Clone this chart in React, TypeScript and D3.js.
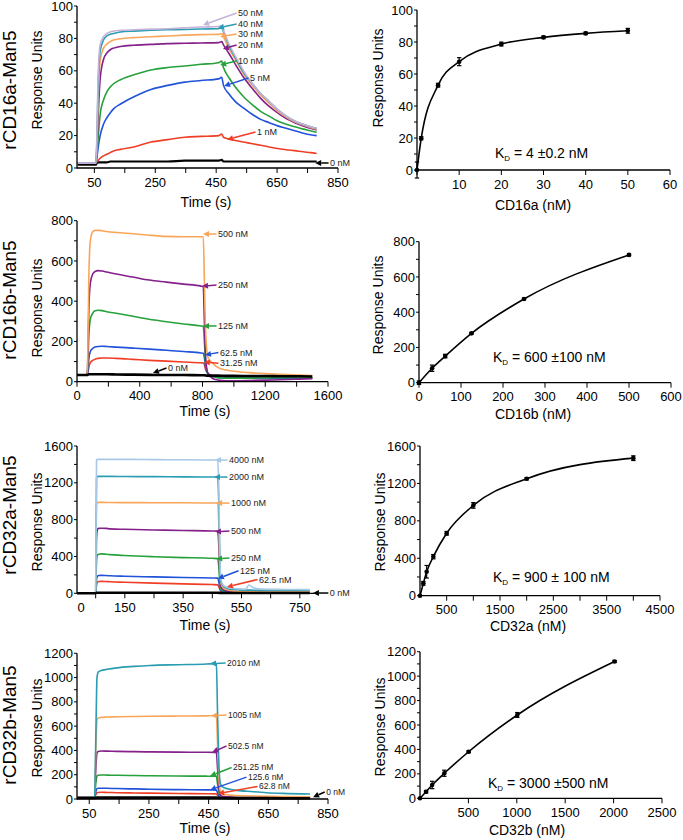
import React from 'react';
import * as d3 from 'd3';

// ---------------- DATA ----------------
// rCD16a-Man5 sensorgram (time s, response units)
const cd16aTime = [-5, 55, 58, 62, 69, 80, 91, 102, 113, 136, 180, 236, 291, 347, 400, 458, 468, 474, 491, 513, 540, 569, 596, 624, 652, 680, 708, 736, 760, 780];
const cd16a50 = [3, 3, 18, 55, 76, 81, 83, 84, 84.5, 85, 85.3, 85.7, 86, 86.5, 87, 87.3, 88, 85, 77, 69, 60, 52, 46, 41, 36, 32, 29, 27, 25.5, 24.5];
const cd16a40 = [3, 3, 15, 48, 72, 79, 81.5, 82.5, 83, 84, 84.5, 85, 85.3, 85.5, 85.8, 86, 86.5, 84, 76, 68, 59, 52, 46, 41, 36, 32, 29, 27, 25.5, 24.5];
const cd16a30 = [3, 3, 12, 40, 66, 74, 76.5, 78, 79, 79.8, 80.5, 81, 81.5, 82, 82.3, 82.5, 83, 81, 74, 67, 58, 51, 45, 40, 35, 31.5, 28.5, 26.5, 25, 24];
const cd16a20 = [3, 3, 10, 30, 55, 67, 71, 73, 74, 75, 75.8, 76.3, 76.8, 77, 77.2, 77.4, 78, 76, 71, 64, 56, 49, 43, 38, 34, 30.5, 28, 26, 24.5, 23.5];
const cd16a10 = [3, 3, 8, 18, 33, 42, 47, 50, 52, 54.5, 57.5, 60.5, 62, 63, 64, 65, 66, 62, 56, 50, 44, 39, 35, 32, 29, 27, 25.5, 24, 23, 22];
const cd16a5 = [3, 3, 6, 12, 20, 27, 31, 34, 36.5, 39.5, 44, 48.5, 51, 53, 54, 55, 56, 51, 46, 41, 37, 33, 30, 28, 26, 24.5, 23, 21.5, 20.5, 20];
const cd16a1 = [3, 3, 3.5, 4.5, 6, 7.5, 8.5, 9.5, 10.5, 11.5, 13, 16, 17.5, 19, 19.5, 20, 21, 19, 18, 17, 16, 15, 14, 13, 12, 11.3, 10.7, 10, 9.5, 9];
const cd16a0 = [2, 2, 3, 3.5, 3.5, 3.5, 3.5, 4, 4, 4, 4, 4, 4, 4.5, 4.5, 4.5, 5, 4, 4, 4, 4, 4, 4, 4, 4, 4, 4, 4, 4, 4];
const cd16aTimeTicks = [50, 150, 250, 350, 450, 550, 650, 750, 850];
const cd16aTimeLabels = [50, 250, 450, 650, 850];
const cd16aRUTicks = [0, 10, 20, 30, 40, 50, 60, 70, 80, 90, 100];
const cd16aRULabels = [0, 20, 40, 60, 80, 100];

// rCD16a-Man5 steady state
const cd16aConc = [0, 1, 5, 10, 20, 30, 40, 50];
const cd16aRU = [0, 19.8, 53, 67.7, 78.7, 82.9, 85.4, 87];
const cd16aErr = [5, 1, 1.2, 2.5, 1.2, 0.8, 0.8, 1.5];
const cd16aConcTicks = [0, 10, 20, 30, 40, 50, 60];
const cd16aConcLabels = [10, 20, 30, 40, 50, 60];

// rCD16b-Man5 sensorgram
const cd16bTime = [0, 65, 70, 75, 85, 100, 115, 135, 160, 190, 250, 357, 460, 570, 680, 790, 805, 812, 820, 835, 867, 900, 950, 1000, 1100, 1207, 1300, 1419, 1500];
const cd16b500 = [33, 33, 200, 500, 700, 745, 752, 752, 750, 746, 741, 735, 728, 722, 720, 720, 720, 500, 250, 120, 90, 70, 58, 52, 45, 40, 37, 33, 30];
const cd16b250 = [33, 33, 150, 350, 490, 535, 548, 552, 550, 545, 535, 520, 505, 495, 485, 475, 472, 300, 120, 40, 15, 8, 5, 5, 6, 8, 10, 13, 15];
const cd16b125 = [33, 33, 100, 220, 310, 340, 352, 355, 353, 348, 340, 325, 310, 298, 287, 277, 275, 200, 90, 40, 25, 20, 18, 18, 18, 19, 20, 20, 20];
const cd16b62 = [33, 33, 60, 110, 150, 165, 172, 175, 176, 175, 172, 167, 162, 156, 150, 143, 141, 120, 70, 40, 25, 20, 18, 18, 18, 18, 18, 18, 18];
const cd16b31 = [33, 33, 45, 70, 95, 106, 112, 116, 118, 118, 116, 111, 106, 102, 98, 94, 93, 85, 60, 40, 28, 24, 22, 21, 21, 20, 20, 20, 20];
const cd16b0 = [33, 33, 35, 37, 37, 37, 37, 37, 37, 37, 36, 35, 34, 33, 33, 32, 32, 32, 31, 30, 30, 30, 29, 29, 28, 28, 27, 27, 26];
const cd16bTimeTicks = [0, 200, 400, 600, 800, 1000, 1200, 1400, 1600];
const cd16bTimeLabels = [0, 400, 800, 1200, 1600];
const cd16bRUTicks = [0, 100, 200, 300, 400, 500, 600, 700, 800];
const cd16bRULabels = [0, 200, 400, 600, 800];

// rCD16b-Man5 steady state
const cd16bConc = [0, 31.25, 62.5, 125, 250, 500];
const cd16bRU = [0, 82, 151, 280, 475, 725];
const cd16bErr = [10, 18, 10, 5, 5, 5];
const cd16bConcTicks = [0, 100, 200, 300, 400, 500, 600];
const cd16bConcLabels = [0, 100, 200, 300, 400, 500, 600];

// rCD32a-Man5 sensorgram
const cd32aTime = [-14, 50, 53, 56, 60, 70, 85, 100, 150, 250, 350, 450, 468, 472, 476, 480, 490, 510, 540, 565, 575, 590, 620, 700, 784];
const cd32a4000 = [0, 0, 1450, 1455, 1455, 1455, 1455, 1455, 1455, 1452, 1450, 1448, 1448, 1200, 400, 150, 80, 55, 48, 45, 90, 60, 45, 42, 40];
const cd32a2000 = [0, 0, 1260, 1268, 1270, 1270, 1270, 1270, 1268, 1267, 1265, 1263, 1263, 1000, 300, 120, 70, 45, 38, 35, 35, 33, 32, 30, 30];
const cd32a1000 = [0, 0, 970, 985, 988, 988, 987, 986, 985, 984, 983, 981, 981, 780, 250, 100, 50, 30, 22, 20, 20, 18, 17, 16, 15];
const cd32a500 = [0, 0, 600, 690, 705, 707, 705, 700, 695, 688, 682, 677, 675, 540, 180, 70, 35, 20, 15, 12, 12, 11, 10, 10, 10];
const cd32a250 = [0, 0, 350, 415, 425, 428, 425, 420, 410, 397, 388, 380, 377, 300, 100, 45, 25, 15, 12, 10, 10, 9, 9, 8, 8];
const cd32a125 = [0, 0, 150, 185, 193, 195, 193, 190, 185, 178, 172, 166, 165, 130, 60, 30, 18, 12, 10, 8, 8, 8, 7, 7, 7];
const cd32a62 = [0, 0, 90, 120, 128, 130, 128, 125, 120, 110, 102, 95, 92, 75, 40, 20, 12, 8, 7, 6, 6, 6, 5, 5, 5];
const cd32a0 = [0, 0, 5, 6, 6, 6, 6, 6, 6, 6, 6, 6, 6, 5, 4, 3, 3, 3, 3, 3, 3, 3, 3, 3, 3];
const cd32aTimeTicks = [50, 150, 250, 350, 450, 550, 650, 750];
const cd32aTimeLabels = [0, 150, 350, 550, 750];
const cd32aRUTicks = [0, 200, 400, 600, 800, 1000, 1200, 1400, 1600];
const cd32aRULabels = [0, 400, 800, 1200, 1600];

// rCD32a-Man5 steady state
const cd32aConc = [0, 62.5, 125, 250, 500, 1000, 2000, 4000];
const cd32aRU = [0, 132, 256, 417, 667, 965, 1250, 1470];
const cd32aErr = [0, 20, 67, 23, 20, 30, 12, 25];
const cd32aConcTicks = [500, 1000, 1500, 2000, 2500, 3000, 3500, 4000, 4500];
const cd32aConcLabels = [500, 1500, 2500, 3500, 4500];

// rCD32b-Man5 sensorgram
const cd32bTime = [10, 68, 72, 76, 80, 90, 110, 142, 200, 253, 350, 443, 470, 476, 480, 485, 490, 500, 533, 600, 644, 700, 790];
const cd32b2010 = [12, 12, 500, 1000, 1045, 1058, 1068, 1080, 1092, 1100, 1106, 1112, 1115, 1110, 700, 250, 120, 95, 75, 60, 52, 46, 41];
const cd32b1005 = [12, 12, 400, 650, 668, 672, 675, 677, 680, 681, 683, 685, 686, 684, 450, 150, 60, 40, 30, 25, 22, 20, 18];
const cd32b502 = [12, 12, 250, 380, 392, 395, 394, 392, 390, 388, 386, 385, 384, 382, 250, 80, 30, 20, 15, 12, 11, 10, 10];
const cd32b251 = [12, 12, 130, 190, 196, 198, 197, 195, 193, 191, 189, 188, 187, 186, 120, 50, 25, 15, 12, 10, 9, 9, 8];
const cd32b125 = [12, 12, 60, 85, 88, 89, 88, 86, 83, 80, 77, 75, 74, 73, 50, 25, 15, 10, 8, 7, 7, 6, 6];
const cd32b62 = [12, 12, 35, 52, 54, 55, 54, 52, 50, 48, 45, 43, 42, 41, 30, 18, 10, 8, 7, 6, 6, 5, 5];
const cd32b0 = [8, 8, 10, 11, 11, 11, 11, 11, 11, 11, 11, 11, 11, 11, 10, 9, 8, 8, 7, 7, 7, 6, 6];
const cd32bTimeTicks = [50, 150, 250, 350, 450, 550, 650, 750, 850];
const cd32bTimeLabels = [50, 250, 450, 650, 850];
const cd32bRUTicks = [0, 100, 200, 300, 400, 500, 600, 700, 800, 900, 1000, 1100, 1200];
const cd32bRULabels = [0, 200, 400, 600, 800, 1000, 1200];

// rCD32b-Man5 steady state
const cd32bConc = [0, 62.8, 125.6, 251.25, 502.5, 1005, 2010];
const cd32bRU = [0, 54, 109, 205, 381, 682, 1120];
const cd32bErr = [0, 10, 30, 25, 8, 20, 8];
const cd32bConcTicks = [500, 1000, 1500, 2000, 2500];
const cd32bConcLabels = [500, 1000, 1500, 2000, 2500];

// ---------------- STYLE ----------------
const FONT = "'Liberation Sans', Arial, Helvetica, sans-serif";
const COL = {
  lav: '#c5b3da',
  teal: '#2a9db3',
  orange: '#f9a65a',
  purple: '#85208a',
  green: '#26a13c',
  blue: '#2152da',
  red: '#ef3e25',
  black: '#000000',
  light: '#a7c8e6',
};

type Lin = d3.ScaleLinear<number, number>;

function Axes({ x, y, xTicks, xLabels, yTicks, yLabels }: { x: Lin; y: Lin; xTicks: number[]; xLabels: number[]; yTicks: number[]; yLabels: number[] }) {
  const [xa, xb] = x.range();
  const [ya, yb] = y.range();
  return (
    <g fontFamily={FONT} fontSize={13} fill="#000">
      <line x1={xa} x2={xb} y1={ya} y2={ya} stroke="#000" strokeWidth={1.3} />
      <line x1={xa} x2={xa} y1={ya + 0.6} y2={yb} stroke="#000" strokeWidth={1.3} />
      {xTicks.map((t) => (
        <line key={'xt' + t} x1={x(t)} x2={x(t)} y1={ya} y2={ya + 5} stroke="#000" strokeWidth={1} />
      ))}
      {yTicks.map((t) => (
        <line key={'yt' + t} x1={xa - 3} x2={xa} y1={y(t)} y2={y(t)} stroke="#000" strokeWidth={1} />
      ))}
      {xLabels.map((t) => (
        <text key={'xl' + t} x={x(t)} y={ya + 18.5} textAnchor="middle">{t}</text>
      ))}
      {yLabels.map((t) => (
        <text key={'yl' + t} x={xa - 4} y={y(t) + 4.6} textAnchor="end">{t}</text>
      ))}
    </g>
  );
}

function Arrow({ x1, y1, x2, y2, color }: { x1: number; y1: number; x2: number; y2: number; color: string }) {
  const dx = x2 - x1;
  const dy = y2 - y1;
  const L = Math.hypot(dx, dy) || 1;
  const ux = dx / L;
  const uy = dy / L;
  const h = 6;
  const w = 3;
  const bx = x2 - ux * h;
  const by = y2 - uy * h;
  const pts = `${x2},${y2} ${bx - uy * w},${by + ux * w} ${bx + uy * w},${by - ux * w}`;
  return (
    <g>
      <line x1={x1} y1={y1} x2={bx} y2={by} stroke={color} strokeWidth={1.5} />
      <polygon points={pts} fill={color} />
    </g>
  );
}

type Curve = { t: number[]; v: number[]; color: string; w?: number };
type Ann = { text: string; color: string; tx: number; tv: number; ax: number; av: number };

function Sensorgram({ x, y, curves, anns, fs = 9 }: { x: Lin; y: Lin; curves: Curve[]; anns: Ann[]; fs?: number }) {
  const line = (c: Curve) =>
    d3
      .line<number>()
      .x((_, i) => x(c.t[i]))
      .y((d) => y(d))
      .curve(d3.curveMonotoneX)(c.v) || '';
  return (
    <g>
      {curves.map((c, i) => (
        <path key={i} d={line(c)} fill="none" stroke={c.color} strokeWidth={c.w ?? 1.6} strokeLinejoin="round" />
      ))}
      {anns.map((a, i) => (
        <g key={'a' + i}>
          <Arrow x1={x(a.tx) - 1.5} y1={y(a.tv)} x2={x(a.ax)} y2={y(a.av)} color={a.color} />
          <text x={x(a.tx)} y={y(a.tv) + fs * 0.35} fontFamily={FONT} fontSize={fs} fill="#222">{a.text}</text>
        </g>
      ))}
    </g>
  );
}

function Saturation({ x, y, conc, ru, err, kd, kdX, kdY }: { x: Lin; y: Lin; conc: number[]; ru: number[]; err: number[]; kd: string; kdX: number; kdY: number }) {
  const pts = conc.map((c, i) => [c, ru[i]] as [number, number]);
  const path =
    d3
      .line<[number, number]>()
      .x((d) => x(d[0]))
      .y((d) => y(d[1]))
      .curve(d3.curveMonotoneX)(pts) || '';
  return (
    <g>
      <path d={path} fill="none" stroke="#000" strokeWidth={1.6} />
      {pts.map((d, i) => {
        const cx = x(d[0]);
        const cy = y(d[1]);
        const e1 = y(d[1] + err[i]);
        const e2 = y(d[1] - err[i]);
        return (
          <g key={i}>
            {err[i] > 0 && (
              <g stroke="#000" strokeWidth={1.2}>
                <line x1={cx} x2={cx} y1={e1} y2={e2} />
                <line x1={cx - 2.2} x2={cx + 2.2} y1={e1} y2={e1} />
                <line x1={cx - 2.2} x2={cx + 2.2} y1={e2} y2={e2} />
              </g>
            )}
            <circle cx={cx} cy={cy} r={2.3} fill="#000" />
          </g>
        );
      })}
      <text x={kdX} y={kdY} fontFamily={FONT} fontSize={14} fill="#000">
        K<tspan fontSize={8} dy={3}>D</tspan>
        <tspan dy={-3}>{kd}</tspan>
      </text>
    </g>
  );
}

function Titles({ xTitle, xTx, xTy, yTx, yTy }: { xTitle: string; xTx: number; xTy: number; yTx: number; yTy: number }) {
  return (
    <g fontFamily={FONT} fontSize={14} fill="#000">
      <text x={xTx} y={xTy} textAnchor="middle">{xTitle}</text>
      <text transform={`translate(${yTx},${yTy}) rotate(-90)`} textAnchor="middle">Response Units</text>
    </g>
  );
}

function RowTitle({ text, cy }: { text: string; cy: number }) {
  return (
    <text transform={`translate(16,${cy}) rotate(-90)`} textAnchor="middle" fontFamily={FONT} fontSize={19} fill="#000">
      {text}
    </text>
  );
}

export default function App() {
  // Row 1
  const x1 = d3.scaleLinear().domain([-7, 850]).range([77, 338]);
  const y1 = d3.scaleLinear().domain([0, 100]).range([168, 6]);
  const x2 = d3.scaleLinear().domain([0, 60]).range([417, 670]);
  const y2 = d3.scaleLinear().domain([0, 100]).range([170, 10]);
  // Row 2
  const x3 = d3.scaleLinear().domain([0, 1600]).range([77, 328]);
  const y3 = d3.scaleLinear().domain([0, 800]).range([381.7, 220.7]);
  const x4 = d3.scaleLinear().domain([0, 600]).range([419, 671]);
  const y4 = d3.scaleLinear().domain([0, 800]).range([382.7, 241.7]);
  // Row 3
  const x5 = d3.scaleLinear().domain([-14, 800]).range([77, 314.4]);
  const y5 = d3.scaleLinear().domain([0, 1600]).range([593.3, 446]);
  const x6 = d3.scaleLinear().domain([0, 4500]).range([420, 660]);
  const y6 = d3.scaleLinear().domain([0, 1600]).range([595.7, 446]);
  // Row 4
  const x7 = d3.scaleLinear().domain([9, 850]).range([77, 328]);
  const y7 = d3.scaleLinear().domain([0, 1200]).range([799, 653.3]);
  const x8 = d3.scaleLinear().domain([0, 2500]).range([420, 662]);
  const y8 = d3.scaleLinear().domain([0, 1200]).range([798.3, 651.7]);

  const c1: Curve[] = [
    { t: cd16aTime, v: cd16a0, color: COL.black, w: 2.2 },
    { t: cd16aTime, v: cd16a1, color: COL.red },
    { t: cd16aTime, v: cd16a5, color: COL.blue },
    { t: cd16aTime, v: cd16a10, color: COL.green },
    { t: cd16aTime, v: cd16a20, color: COL.purple },
    { t: cd16aTime, v: cd16a30, color: COL.orange },
    { t: cd16aTime, v: cd16a40, color: COL.teal },
    { t: cd16aTime, v: cd16a50, color: COL.lav },
  ];
  const a1: Ann[] = [
    { text: '50 nM', color: COL.lav, tx: 522, tv: 95.7, ax: 407, av: 88.3 },
    { text: '40 nM', color: COL.teal, tx: 522, tv: 88.9, ax: 456, av: 86.4 },
    { text: '30 nM', color: COL.orange, tx: 522, tv: 82.7, ax: 463, av: 81 },
    { text: '20 nM', color: COL.purple, tx: 522, tv: 75.9, ax: 472, av: 73.5 },
    { text: '10 nM', color: COL.green, tx: 522, tv: 66, ax: 463, av: 63.6 },
    { text: '5 nM', color: COL.blue, tx: 561, tv: 55.6, ax: 476, av: 50.6 },
    { text: '1 nM', color: COL.red, tx: 584, tv: 22.2, ax: 486, av: 17.5 },
    { text: '0 nM', color: COL.black, tx: 824, tv: 3.1, ax: 775, av: 3.1 },
  ];

  const c3: Curve[] = [
    { t: cd16bTime, v: cd16b31, color: COL.red },
    { t: cd16bTime, v: cd16b62, color: COL.blue },
    { t: cd16bTime, v: cd16b125, color: COL.green },
    { t: cd16bTime, v: cd16b250, color: COL.purple },
    { t: cd16bTime, v: cd16b500, color: COL.orange },
    { t: cd16bTime, v: cd16b0, color: COL.black, w: 2.6 },
  ];
  const a3: Ann[] = [
    { text: '500 nM', color: COL.orange, tx: 899, tv: 734, ax: 803, av: 734 },
    { text: '250 nM', color: COL.purple, tx: 899, tv: 480, ax: 797, av: 475 },
    { text: '125 nM', color: COL.green, tx: 899, tv: 277, ax: 803, av: 277 },
    { text: '62.5 nM', color: COL.blue, tx: 911, tv: 145, ax: 816, av: 133 },
    { text: '31.25 nM', color: COL.red, tx: 911, tv: 92, ax: 809, av: 98 },
    { text: '0 nM', color: COL.black, tx: 580, tv: 68, ax: 484, av: 43 },
  ];

  const c5: Curve[] = [
    { t: cd32aTime, v: cd32a62, color: COL.red },
    { t: cd32aTime, v: cd32a125, color: COL.blue },
    { t: cd32aTime, v: cd32a250, color: COL.green },
    { t: cd32aTime, v: cd32a500, color: COL.purple },
    { t: cd32aTime, v: cd32a1000, color: COL.orange },
    { t: cd32aTime, v: cd32a2000, color: COL.teal },
    { t: cd32aTime, v: cd32a4000, color: COL.light },
    { t: cd32aTime, v: cd32a0, color: COL.black, w: 2.6 },
  ];
  const a5: Ann[] = [
    { text: '4000 nM', color: COL.light, tx: 507, tv: 1447, ax: 459, av: 1447 },
    { text: '2000 nM', color: COL.teal, tx: 507, tv: 1263, ax: 456, av: 1263 },
    { text: '1000 nM', color: COL.orange, tx: 514, tv: 980, ax: 463, av: 980 },
    { text: '500 nM', color: COL.purple, tx: 514, tv: 676, ax: 459, av: 670 },
    { text: '250 nM', color: COL.green, tx: 514, tv: 383, ax: 463, av: 375 },
    { text: '125 nM', color: COL.blue, tx: 545, tv: 245, ax: 469, av: 160 },
    { text: '62.5 nM', color: COL.red, tx: 610, tv: 150, ax: 500, av: 68 },
    { text: '0 nM', color: COL.black, tx: 853, tv: 3, ax: 795, av: 3 },
  ];

  const c7: Curve[] = [
    { t: cd32bTime, v: cd32b62, color: COL.red },
    { t: cd32bTime, v: cd32b125, color: COL.blue },
    { t: cd32bTime, v: cd32b251, color: COL.green },
    { t: cd32bTime, v: cd32b502, color: COL.purple },
    { t: cd32bTime, v: cd32b1005, color: COL.orange },
    { t: cd32bTime, v: cd32b2010, color: COL.teal },
    { t: cd32bTime, v: cd32b0, color: COL.black, w: 2.6 },
  ];
  const a7: Ann[] = [
    { text: '2010 nM', color: COL.teal, tx: 512, tv: 1120, ax: 455, av: 1115 },
    { text: '1005 nM', color: COL.orange, tx: 515, tv: 692, ax: 458, av: 686 },
    { text: '502.5 nM', color: COL.purple, tx: 515, tv: 437, ax: 462, av: 385 },
    { text: '251.25 nM', color: COL.green, tx: 532, tv: 260, ax: 455, av: 189 },
    { text: '125.6 nM', color: COL.blue, tx: 582, tv: 180, ax: 455, av: 75 },
    { text: '62.8 nM', color: COL.red, tx: 619, tv: 103, ax: 482, av: 45 },
    { text: '0 nM', color: COL.black, tx: 844, tv: 58, ax: 800, av: 14 },
  ];

  return (
    <div style={{ position: 'absolute', left: 0, top: 0 }}>
      <svg width={683} height={840} style={{ display: 'block', background: '#fff' }}>
        <rect x={0} y={0} width={683} height={840} fill="#fff" />
        {/* Row 1 */}
        <RowTitle text="rCD16a-Man5" cy={90} />
        <Sensorgram x={x1} y={y1} curves={c1} anns={a1} />
        <Axes x={x1} y={y1} xTicks={cd16aTimeTicks} xLabels={cd16aTimeLabels} yTicks={cd16aRUTicks} yLabels={cd16aRULabels} />
        <Titles xTitle="Time (s)" xTx={206} xTy={207} yTx={42} yTy={80} />
        <Saturation x={x2} y={y2} conc={cd16aConc} ru={cd16aRU} err={cd16aErr} kd=" = 4 ±0.2 nM" kdX={495} kdY={158} />
        <Axes x={x2} y={y2} xTicks={cd16aConcTicks} xLabels={cd16aConcLabels} yTicks={cd16aRUTicks} yLabels={cd16aRULabels} />
        <Titles xTitle="CD16a (nM)" xTx={533} xTy={210} yTx={383} yTy={78} />

        {/* Row 2 */}
        <RowTitle text="rCD16b-Man5" cy={300} />
        <Sensorgram x={x3} y={y3} curves={c3} anns={a3} />
        <Axes x={x3} y={y3} xTicks={cd16bTimeTicks} xLabels={cd16bTimeLabels} yTicks={cd16bRUTicks} yLabels={cd16bRULabels} />
        <Titles xTitle="Time (s)" xTx={205} xTy={416} yTx={42} yTy={308} />
        <Saturation x={x4} y={y4} conc={cd16bConc} ru={cd16bRU} err={cd16bErr} kd=" = 600 ±100 nM" kdX={493} kdY={362} />
        <Axes x={x4} y={y4} xTicks={cd16bConcTicks} xLabels={cd16bConcLabels} yTicks={cd16bRUTicks} yLabels={cd16bRULabels} />
        <Titles xTitle="CD16b (nM)" xTx={533} xTy={419} yTx={383} yTy={305} />

        {/* Row 3 */}
        <RowTitle text="rCD32a-Man5" cy={515} />
        <Sensorgram x={x5} y={y5} curves={c5} anns={a5} />
        <Axes x={x5} y={y5} xTicks={cd32aTimeTicks} xLabels={cd32aTimeLabels} yTicks={cd32aRUTicks} yLabels={cd32aRULabels} />
        <Titles xTitle="Time (s)" xTx={205} xTy={630} yTx={42} yTy={522} />
        <Saturation x={x6} y={y6} conc={cd32aConc} ru={cd32aRU} err={cd32aErr} kd=" = 900 ± 100 nM" kdX={493} kdY={582} />
        <Axes x={x6} y={y6} xTicks={cd32aConcTicks} xLabels={cd32aConcLabels} yTicks={cd32aRUTicks} yLabels={cd32aRULabels} />
        <Titles xTitle="CD32a (nM)" xTx={528} xTy={631} yTx={385} yTy={522} />

        {/* Row 4 */}
        <RowTitle text="rCD32b-Man5" cy={725} />
        <Sensorgram x={x7} y={y7} curves={c7} anns={a7} fs={8.5} />
        <Axes x={x7} y={y7} xTicks={cd32bTimeTicks} xLabels={cd32bTimeLabels} yTicks={cd32bRUTicks} yLabels={cd32bRULabels} />
        <Titles xTitle="Time (s)" xTx={205} xTy={833} yTx={42} yTy={728} />
        <Saturation x={x8} y={y8} conc={cd32bConc} ru={cd32bRU} err={cd32bErr} kd=" = 3000 ±500 nM" kdX={488} kdY={788} />
        <Axes x={x8} y={y8} xTicks={cd32bConcTicks} xLabels={cd32bConcLabels} yTicks={cd32bRUTicks} yLabels={cd32bRULabels} />
        <Titles xTitle="CD32b (nM)" xTx={527} xTy={835} yTx={385} yTy={727} />
      </svg>
    </div>
  );
}
